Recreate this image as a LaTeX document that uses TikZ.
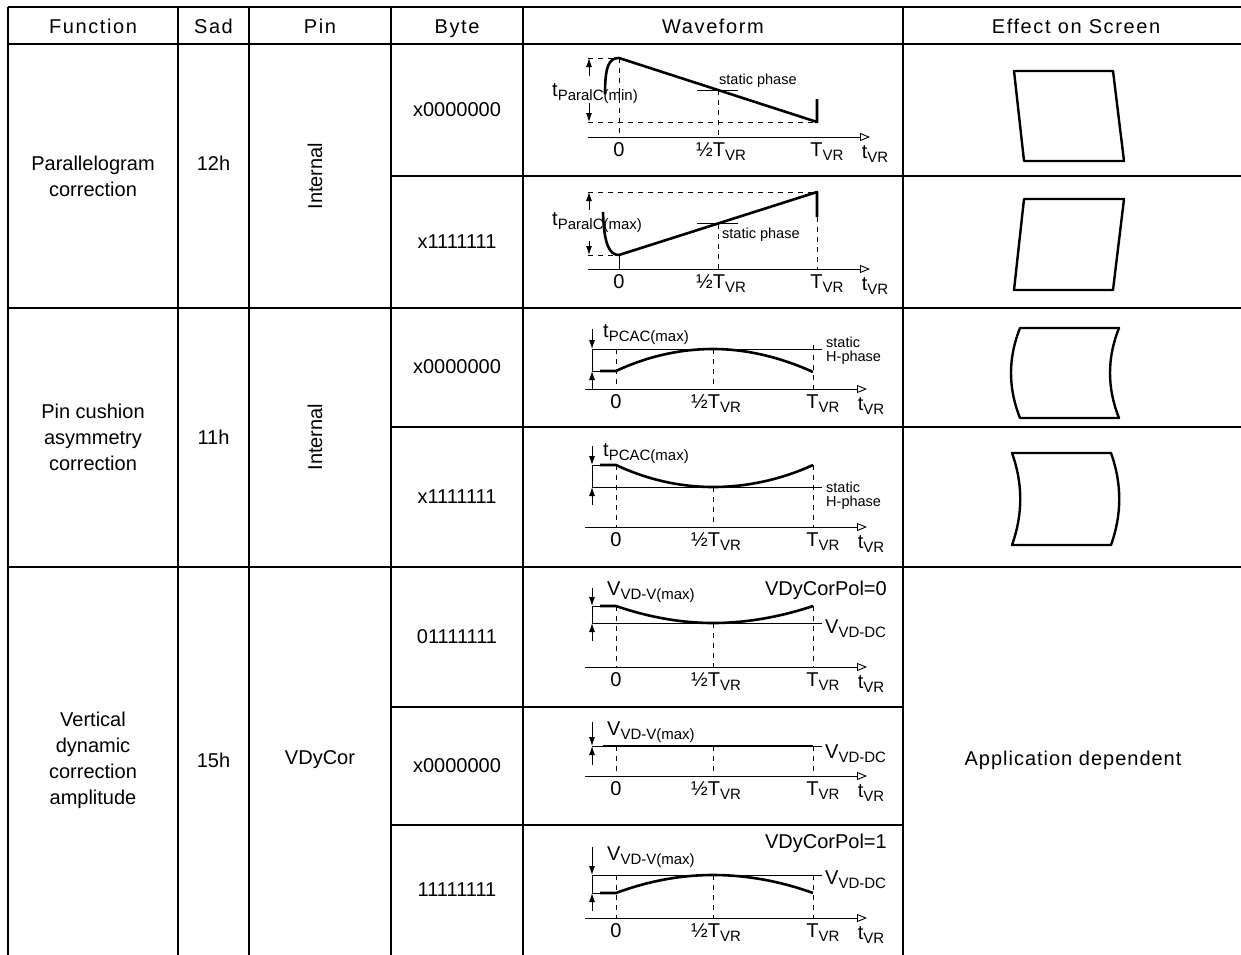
\documentclass[tikz,border=0pt]{standalone}
\usepackage{fontspec}
\setmainfont{Liberation Sans}
\usetikzlibrary{arrows.meta}

\newcommand{\lowsub}[1]{\raisebox{-4pt}{\fontsize{15}{15}\selectfont #1}}

\begin{document}
\begin{tikzpicture}[
    x=1pt, y=-1pt,
    rule/.style={line width=2.4pt},
    cell/.style={font=\fontsize{20}{26}\selectfont, align=center, inner sep=0pt},
    head/.style={font=\fontsize{20}{26}\selectfont\addfontfeature{LetterSpace=8}, inner sep=0pt, anchor=base},
    wave/.style={line width=2.6pt, line join=round},
    hair/.style={line width=0.9pt},
    guide/.style={line width=0.9pt, dash pattern=on 5pt off 5pt},
    taxis/.style={line width=0.9pt, -{Triangle[open, length=10pt, width=8pt]}},
    dimarrow/.style={line width=0.9pt, -{Latex[length=9pt, width=6pt]}},
    lbl/.style={font=\fontsize{20}{20}\selectfont, inner sep=0pt, anchor=base},
    note/.style={font=\fontsize{14.5}{14}\selectfont, inner sep=0pt, align=left},
    screen/.style={line width=2.4pt, line join=round}
]
\useasboundingbox (0,0) rectangle (1241,954);

% Table rules
\draw[rule] (8,7) -- (1241,7);
\draw[rule] (8,44) -- (1241,44);
\draw[rule] (391,176) -- (1241,176);
\draw[rule] (8,308) -- (1241,308);
\draw[rule] (391,427) -- (1241,427);
\draw[rule] (8,567) -- (1241,567);
\draw[rule] (391,707) -- (903,707);
\draw[rule] (391,825) -- (903,825);
\foreach \cx in {8,178,249,391,523,903}
  \draw[rule] (\cx,7) -- (\cx,960);

% Header
\node[head] (hfunc) at (93,33) {Function};
\node[head] (hsad) at (213.5,33) {Sad};
\node[head] (hpin) at (320,33) {Pin};
\node[head] (hbyte) at (457,33) {Byte};
\node[head] (hwave) at (713,33) {Waveform};
\node[head] (heffect) at (1076,33) {Effect on Screen};

% Parallelogram correction
\node[cell] (fparal) at (93,176) {Parallelogram\\correction};
\node[cell] (sparal) at (213.5,163) {12h};
\node[cell, rotate=90] (pparal) at (315,176) {Internal};
\node[cell] (bparal1) at (457,110) {x0000000};
\node[cell] (bparal2) at (457,242) {x1111111};

% Pin cushion asymmetry correction
\node[cell] (fpcac) at (93,437) {Pin cushion\\asymmetry\\correction};
\node[cell] (spcac) at (213.5,437) {11h};
\node[cell, rotate=90] (ppcac) at (315,437) {Internal};
\node[cell] (bpcac1) at (457,367) {x0000000};
\node[cell] (bpcac2) at (457,497) {x1111111};

% Vertical dynamic correction amplitude
\node[cell] (fvdy) at (93,760) {Vertical\\dynamic\\correction\\amplitude};
\node[cell] (svdy) at (213.5,760) {15h};
\node[cell] (pvdy) at (320,760) {VDyCor};
\node[cell] (bvdy1) at (457,637) {01111111};
\node[cell] (bvdy2) at (457,766) {x0000000};
\node[cell] (bvdy3) at (457,890) {11111111};
\node[cell, font=\fontsize{20}{26}\selectfont\addfontfeature{LetterSpace=5}] (evdy) at (1073,760) {Application dependent};

% Time axes of the waveforms
\foreach \ay/\tz/\th/\tf [count=\k] in {137/619/718/817, 269/619/718/817,
    389/616/713/813, 527/616/713/813, 667/616/713/813, 776/616/713/813, 918/616/713/813} {
  \draw[taxis] (\tz-31,\ay) -- (\tz+251,\ay);
  \node[lbl] (zero\k) at (\tz,\ay+19) {0};
  \node[lbl] (half\k) at (\th+3,\ay+19) {½T\lowsub{VR}};
  \node[lbl] (full\k) at (\tf+10,\ay+19) {T\lowsub{VR}};
  \node[lbl] (time\k) at (\tf+58,\ay+21) {t\lowsub{VR}};
}

% Waveform: parallelogram x0000000
\draw[guide] (588,58) -- (619,58);
\draw[guide] (588,122) -- (817,122);
\draw[guide] (619,58) -- (619,137);
\draw[guide] (718,90) -- (718,137);
\draw[hair] (697,90) -- (738,90);
\draw[wave] (605,94) .. controls (605,66) and (609,58) .. (619,58) -- (817,122) -- (817,99);
\draw[dimarrow] (589,76) -- (589,58);
\draw[dimarrow] (589,103) -- (589,122);
\node[lbl, anchor=base west] (tparal1) at (552,96) {t\lowsub{ParalC(min)}};
\node[note, anchor=base west] (sph1) at (719,84) {static phase};

% Waveform: parallelogram x1111111
\draw[guide] (588,192) -- (817,192);
\draw[guide] (588,255) -- (619,255);
\draw[hair] (619,255) -- (619,269);
\draw[guide] (718,224) -- (718,269);
\draw[guide] (817,217) -- (817,269);
\draw[hair] (697,223) -- (738,223);
\draw[wave] (603,212) .. controls (604,246) and (610,255) .. (619,255) -- (817,192) -- (817,217);
\draw[dimarrow] (589,210) -- (589,192);
\draw[dimarrow] (589,241) -- (589,255);
\node[lbl, anchor=base west] (tparal2) at (552,225) {t\lowsub{ParalC(max)}};
\node[note, anchor=base west] (sph2) at (722,238) {static phase};

% Waveform: pin cushion x0000000
\draw[hair] (592,349) -- (822,349);
\draw[dimarrow] (592,329) -- (592,349);
\draw[hair] (592,349) -- (592,371) -- (602,371);
\draw[dimarrow] (592,389) -- (592,371);
\draw[guide] (616,349) -- (616,389);
\draw[guide] (713,349) -- (713,389);
\draw[guide] (813,345) -- (813,389);
\draw[wave] (600,371) -- (616,371) .. controls (648,356) and (681,349) .. (713,349)
  .. controls (746,349) and (780,357) .. (813,372);
\node[lbl, anchor=base west] (tpcac1) at (603,337) {t\lowsub{PCAC(max)}};
\node[note, anchor=west] (shp1) at (826,351) {static\\H-phase};

% Waveform: pin cushion x1111111
\draw[hair] (592,487) -- (822,487);
\draw[dimarrow] (592,446) -- (592,465);
\draw[hair] (602,465) -- (592,465) -- (592,487);
\draw[dimarrow] (592,505) -- (592,487);
\draw[guide] (616,465) -- (616,527);
\draw[guide] (713,487) -- (713,527);
\draw[guide] (813,465) -- (813,527);
\draw[wave] (600,465) -- (616,465) .. controls (648,480) and (681,487) .. (713,487)
  .. controls (746,487) and (780,480) .. (813,465);
\node[lbl, anchor=base west] (tpcac2) at (603,456) {t\lowsub{PCAC(max)}};
\node[note, anchor=west] (shp2) at (826,496) {static\\H-phase};

% Waveform: vertical dynamic 01111111
\draw[hair] (592,623) -- (822,623);
\draw[dimarrow] (592,588) -- (592,606);
\draw[hair] (602,606) -- (592,606) -- (592,623);
\draw[dimarrow] (592,641) -- (592,623);
\draw[guide] (616,606) -- (616,667);
\draw[guide] (713,623) -- (713,667);
\draw[guide] (813,606) -- (813,667);
\draw[wave] (600,606) -- (616,606) .. controls (648,617) and (681,623) .. (713,623)
  .. controls (746,623) and (780,617) .. (813,606);
\node[lbl, anchor=base west] (vmax1) at (607,595) {V\lowsub{VD-V(max)}};
\node[lbl, anchor=base east] (pol0) at (887,595) {VDyCorPol=0};
\node[lbl, anchor=base west] (vdc1) at (825,633) {V\lowsub{VD-DC}};

% Waveform: vertical dynamic x0000000
\draw[hair] (592,746) -- (822,746);
\draw[dimarrow] (592,722) -- (592,746);
\draw[dimarrow] (592,765) -- (592,746);
\draw[guide] (616,746) -- (616,776);
\draw[guide] (713,746) -- (713,776);
\draw[guide] (813,746) -- (813,776);
\draw[wave] (603,746) -- (813,746);
\node[lbl, anchor=base west] (vmax2) at (607,735) {V\lowsub{VD-V(max)}};
\node[lbl, anchor=base west] (vdc2) at (825,758) {V\lowsub{VD-DC}};

% Waveform: vertical dynamic 11111111
\draw[hair] (592,875) -- (822,875);
\draw[dimarrow] (592,847) -- (592,875);
\draw[hair] (602,893) -- (592,893) -- (592,875);
\draw[dimarrow] (592,911) -- (592,893);
\draw[guide] (616,875) -- (616,918);
\draw[guide] (713,875) -- (713,918);
\draw[guide] (813,875) -- (813,918);
\draw[wave] (600,893) -- (616,893) .. controls (648,881) and (681,875) .. (713,875)
  .. controls (746,875) and (780,881) .. (813,893);
\node[lbl, anchor=base east] (pol1) at (887,848) {VDyCorPol=1};
\node[lbl, anchor=base west] (vmax3) at (607,860) {V\lowsub{VD-V(max)}};
\node[lbl, anchor=base west] (vdc3) at (825,884) {V\lowsub{VD-DC}};

% Effect on screen
\draw[screen] (1014,71) -- (1113,71) -- (1124,161) -- (1024,161) -- cycle;
\draw[screen] (1024,199) -- (1124,199) -- (1113,290) -- (1014,290) -- cycle;
\draw[screen] (1020,328) -- (1119,328) .. controls (1107,358) and (1107,388) .. (1119,418)
  -- (1020,418) .. controls (1008,388) and (1008,358) .. (1020,328) -- cycle;
\draw[screen] (1012,453) -- (1111,453) .. controls (1122,484) and (1122,514) .. (1111,545)
  -- (1012,545) .. controls (1023,514) and (1023,484) .. (1012,453) -- cycle;

\end{tikzpicture}
\end{document}
